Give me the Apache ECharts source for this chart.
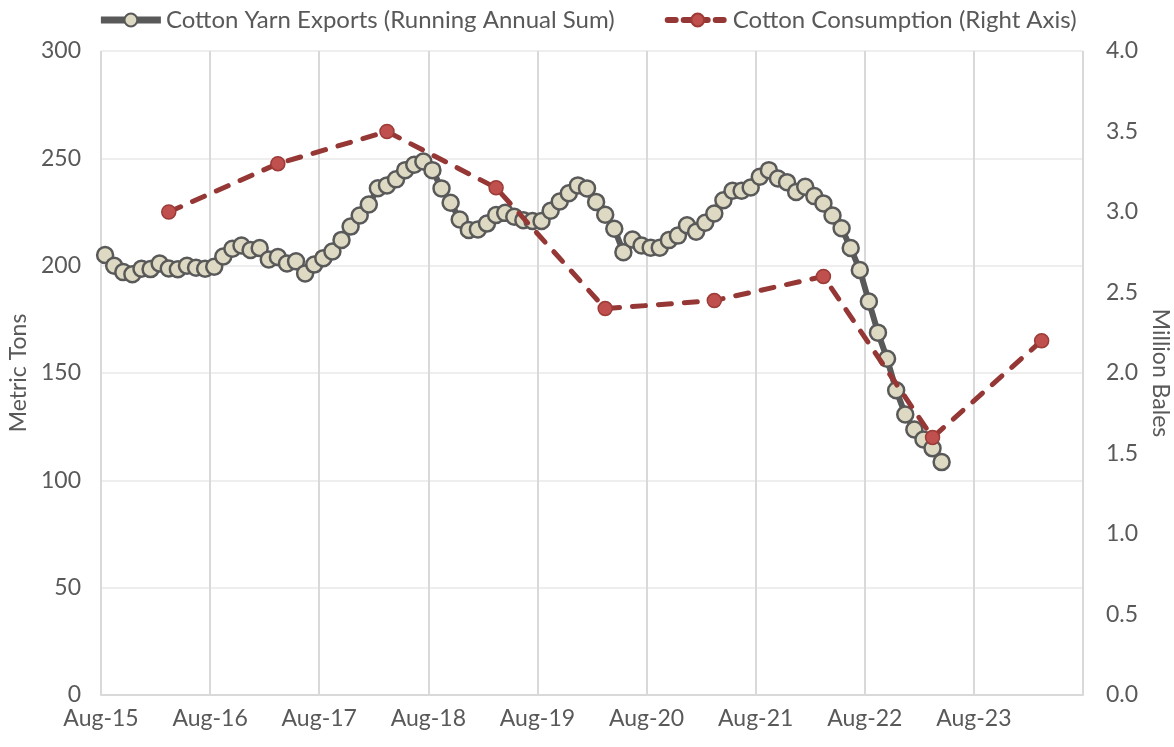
<!DOCTYPE html>
<html>
<head>
<meta charset="utf-8">
<script src="https://cdn.jsdelivr.net/npm/echarts@6/dist/echarts.min.js"></script>
<style>
  html, body { margin: 0; padding: 0; background: #fff; }
  #chart { width: 1174px; height: 747px; }
</style>
</head>
<body>
<div id="chart"></div>
<script>
// cotton yarn exports, running annual sum (metric tons), monthly from Aug-15
var exportStart = [2015, 8, 15];
var exportValues = [
  205, 200, 197, 196, 198.6, 198.4, 201, 198.7, 198.3, 200, 199, 198.6,
  199.5, 204.3, 207.9, 209.4, 207.3, 208.2, 202.9, 204, 201, 202, 196.4, 200.5,
  203.5, 206.6, 212, 218.2, 223.4, 228.5, 236.1, 237.4, 240.2, 244.5, 247, 248.5,
  244.5, 236, 229.3, 221.5, 216.6, 216.9, 219.6, 223.6, 224.6, 222.8, 221.2, 220.8,
  220.8, 225.6, 229.9, 233.7, 237.4, 236, 229.7, 223.7, 217.2, 206.3, 212.2, 209.4,
  208.4, 208.4, 211.9, 214, 218.8, 215.8, 220, 224.3, 230.5, 234.9, 234.9, 236.4,
  241.4, 244.5, 240.6, 238.9, 234.3, 236.8, 232.4, 229, 223.4, 217.4, 208.2, 198,
  183.3, 168.8, 156.6, 142, 130.7, 123.7, 119, 114.9, 108.5
];

// cotton consumption (million bales), right axis
var consumptionDates = ['2016-03-15', '2017-03-15', '2018-03-15', '2019-03-15', '2020-03-15',
  '2021-03-15', '2022-03-15', '2023-03-15', '2024-03-15'];
var consumptionValues = [3.0, 3.3, 3.5, 3.15, 2.4, 2.45, 2.6, 1.6, 2.2];

var xTickLabels = ['Aug-15', 'Aug-16', 'Aug-17', 'Aug-18', 'Aug-19', 'Aug-20', 'Aug-21', 'Aug-22', 'Aug-23'];

// months since Aug 2015 (x scale)
function toMonths(y, m, d) {
  return (y - 2015) * 12 + (m - 8) + (d - 1) / 31;
}

var exportData = exportValues.map(function (v, i) {
  var m = exportStart[1] - 1 + i;
  var y = exportStart[0] + Math.floor(m / 12);
  return [toMonths(y, (m % 12) + 1, exportStart[2]), v];
});
var consumptionData = consumptionDates.map(function (s, i) {
  var p = s.split('-').map(Number);
  return [toMonths(p[0], p[1], p[2]), consumptionValues[i]];
});

var font = 'Lato';
var txt = '#595959';

var chart = echarts.init(document.getElementById('chart'));
chart.setOption({
  animation: false,
  textStyle: { fontFamily: font, color: txt },
  legend: {
    top: 3,
    left: 'center',
    itemWidth: 60,
    itemHeight: 16,
    itemGap: 50,
    textStyle: { fontFamily: font, fontSize: 24, color: txt },
    data: [
      { name: 'Cotton Yarn Exports (Running Annual Sum)', lineStyle: { width: 7 } },
      { name: 'Cotton Consumption (Right Axis)', lineStyle: { width: 6, type: [8, 8] } }
    ]
  },
  grid: { left: 101, right: 91, top: 51, bottom: 52, outerBoundsMode: 'none' },
  xAxis: {
    type: 'value',
    min: 0,
    max: 108,
    interval: 12,
    axisLine: { show: true, lineStyle: { color: '#d9d9d9', width: 2 } },
    axisTick: { show: false },
    axisLabel: {
      fontFamily: font, fontSize: 23, color: txt, margin: 12,
      formatter: function (v) { return xTickLabels[v / 12] || ''; }
    },
    splitLine: { show: true, lineStyle: { color: '#d9d9d9', width: 2 } }
  },
  yAxis: [{
    type: 'value',
    min: 0,
    max: 300,
    interval: 50,
    name: 'Metric Tons',
    nameLocation: 'middle',
    nameRotate: 90,
    nameGap: 68,
    nameTextStyle: { fontFamily: font, fontSize: 23, color: txt },
    axisLine: { show: false },
    axisTick: { show: false },
    axisLabel: { fontFamily: font, fontSize: 23, color: txt, margin: 20 },
    splitLine: { show: true, lineStyle: { color: '#eeeeee', width: 2 } }
  }, {
    type: 'value',
    min: 0,
    max: 4,
    interval: 0.5,
    position: 'right',
    name: 'Million Bales',
    nameLocation: 'middle',
    nameRotate: -90,
    nameGap: 65,
    nameTextStyle: { fontFamily: font, fontSize: 23, color: txt },
    axisLine: { show: false },
    axisTick: { show: false },
    axisLabel: {
      fontFamily: font, fontSize: 23, color: txt, margin: 23,
      formatter: function (v) { return v.toFixed(1); }
    },
    splitLine: { show: false }
  }],
  series: [{
    name: 'Cotton Yarn Exports (Running Annual Sum)',
    type: 'line',
    yAxisIndex: 0,
    data: exportData,
    symbol: 'circle',
    symbolSize: 16,
    lineStyle: { color: '#595959', width: 6 },
    itemStyle: { color: '#ddd9c3', borderColor: '#595959', borderWidth: 2.5 },
    z: 2
  }, {
    name: 'Cotton Consumption (Right Axis)',
    type: 'line',
    yAxisIndex: 1,
    data: consumptionData,
    symbol: 'circle',
    symbolSize: 14,
    lineStyle: { color: '#953735', width: 5, type: [13, 13], cap: 'round' },
    itemStyle: { color: '#c0504d', borderColor: '#9c3b38', borderWidth: 1.5 },
    z: 3
  }]
});
</script>
</body>
</html>
